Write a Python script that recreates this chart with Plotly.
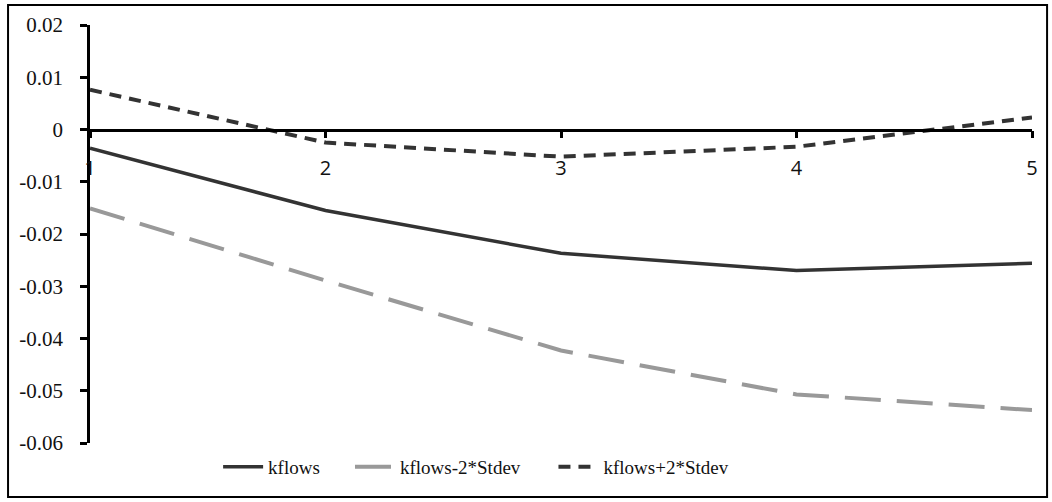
import plotly.graph_objects as go

periods = [1, 2, 3, 4, 5]
kflows = [-0.0036, -0.0155, -0.0237, -0.0270, -0.0256]
kflows_minus = [-0.0151, -0.0289, -0.0423, -0.0507, -0.0537]
kflows_plus = [0.0076, -0.0025, -0.0052, -0.0033, 0.0023]
y_ticks = [0.02, 0.01, 0, -0.01, -0.02, -0.03, -0.04, -0.05, -0.06]
y_labels = ["0.02", "0.01", "0", "-0.01", "-0.02", "-0.03", "-0.04", "-0.05", "-0.06"]

fig = go.Figure()
fig.add_trace(go.Scatter(x=periods, y=kflows, mode="lines", name="kflows",
                         line=dict(color="#333333", width=3.5), legend="legend"))
fig.add_trace(go.Scatter(x=periods, y=kflows_minus, mode="lines", name="kflows-2*Stdev",
                         line=dict(color="#999999", width=4, dash="36px,16px"), legend="legend2"))
fig.add_trace(go.Scatter(x=periods, y=kflows_plus, mode="lines", name="kflows+2*Stdev",
                         line=dict(color="#333333", width=4, dash="12px,8px"), legend="legend3"))

serif = "Liberation Serif, Times New Roman, serif"
leg_font = dict(family=serif, size=19, color="#111")
def leg(x):
    return dict(x=x, xanchor="left", y=-0.057, yanchor="middle", font=leg_font,
                bgcolor="rgba(0,0,0,0)", itemwidth=40, orientation="h")

fig.update_layout(
    width=1052, height=502,
    margin=dict(l=90, r=20, t=25, b=59),
    plot_bgcolor="white", paper_bgcolor="white",
    showlegend=True,
    legend=leg(0.136),
    legend2=leg(0.276),
    legend3=leg(0.492),
    xaxis=dict(range=[1, 5], tickvals=periods, ticktext=[str(p) for p in periods],
               anchor="free", position=0.75, showline=True, linecolor="black", linewidth=2.5,
               ticks="outside", ticklen=7, tickwidth=2.5, tickcolor="black",
               ticklabelstandoff=13, showgrid=False, zeroline=False,
               tickfont=dict(family="Open Sans", size=20, color="#111")),
    yaxis=dict(range=[-0.06, 0.02], tickvals=y_ticks, ticktext=y_labels,
               showline=True, linecolor="black", linewidth=2.5,
               ticks="outside", ticklen=7, tickwidth=2.5, tickcolor="black",
               ticklabelstandoff=13, showgrid=False, zeroline=False,
               tickfont=dict(family=serif, size=21, color="#111")),
    shapes=[dict(type="rect", xref="paper", yref="paper",
                 x0=-0.087, x1=1.016, y0=-0.129, y1=1.048,
                 line=dict(color="black", width=2), fillcolor="rgba(0,0,0,0)")],
)

fig.write_html("out.html", config={"displayModeBar": False},
               post_script="document.body.style.margin='0';")
